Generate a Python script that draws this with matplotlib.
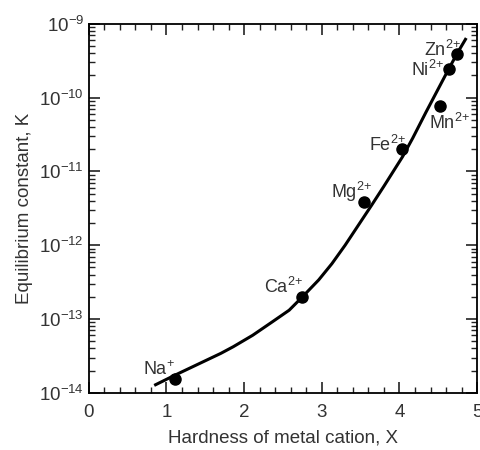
import matplotlib
matplotlib.use("Agg")
import matplotlib.pyplot as plt
from matplotlib.ticker import MultipleLocator, LogLocator, NullFormatter

plt.rcParams['font.family'] = ['Liberation Sans', 'DejaVu Sans']
plt.rcParams['mathtext.fontset'] = 'custom'
plt.rcParams['mathtext.rm'] = 'Liberation Sans'

# cations: hardness X and equilibrium constant K
ions = [r'Na$^{+}$', r'Ca$^{2\!+}$', r'Mg$^{2\!+}$', r'Fe$^{2\!+}$',
        r'Mn$^{2\!+}$', r'Ni$^{2\!+}$', r'Zn$^{2\!+}$']
hardness = [1.11, 2.74, 3.54, 4.03, 4.52, 4.64, 4.74]
log_k = [-13.81, -12.70, -11.41, -10.70, -10.11, -9.61, -9.41]

# fitted curve
curve_x = [0.86, 1.09, 1.30, 1.52, 1.70, 1.86, 2.11, 2.36, 2.58, 2.75,
           2.96, 3.13, 3.30, 3.47, 3.64, 3.80, 3.92, 4.04, 4.17, 4.34,
           4.51, 4.65, 4.76, 4.85]
curve_logk = [-13.89, -13.77, -13.665, -13.555, -13.465, -13.375, -13.22, -13.04,
              -12.88, -12.70, -12.47, -12.25, -12.00, -11.73, -11.46, -11.20,
              -11.00, -10.80, -10.55, -10.20, -9.86, -9.58, -9.37, -9.21]

# label offsets in points (dx, dy) of the text baseline, and alignment
label_pos = [(0, 3, 'right'), (1.5, 3, 'right'), (6.5, 3, 'right'), (3, -1.5, 'right'),
             (-8, -16.5, 'left'), (-3.6, -5, 'right'), (3, -1.5, 'right')]

fig = plt.figure(figsize=(4.8, 4.5), dpi=100)
ax = fig.add_axes([0.185, 0.127, 0.809, 0.82])

ax.plot(curve_x, [10 ** v for v in curve_logk], color='black', lw=2.2,
        solid_joinstyle='round')
ax.plot(hardness, [10 ** v for v in log_k], 'o', color='black', ms=8)

for name, x, ly, (dx, dy, ha) in zip(ions, hardness, log_k, label_pos):
    ax.annotate(name, (x, 10 ** ly), xytext=(dx, dy), textcoords='offset points',
                ha=ha, va='baseline', fontsize=13, color='#333333')

ax.set_yscale('log')
ax.set_xlim(0, 5)
ax.set_ylim(1e-14, 1e-9)
ax.xaxis.set_major_locator(MultipleLocator(1))
ax.xaxis.set_minor_locator(MultipleLocator(0.2))
ax.yaxis.set_major_locator(LogLocator(base=10, numticks=10))
ax.yaxis.set_minor_locator(LogLocator(base=10, subs=range(2, 10), numticks=10))
ax.yaxis.set_minor_formatter(NullFormatter())

ax.tick_params(which='both', direction='in', top=True, right=True, labelsize=13.5,
               colors='#222222', labelcolor='#333333')
ax.tick_params(which='major', length=8, width=1.2)
ax.tick_params(which='minor', length=4, width=1)
ax.tick_params(axis='x', pad=8)
for s in ax.spines.values():
    s.set_linewidth(1.3)

ax.set_xlabel('Hardness of metal cation, X', fontsize=13.5, color='#333333', labelpad=6)
ax.set_ylabel('Equilibrium constant, K', fontsize=13.5, color='#333333', labelpad=4)

fig.savefig('out.png', dpi=100)
